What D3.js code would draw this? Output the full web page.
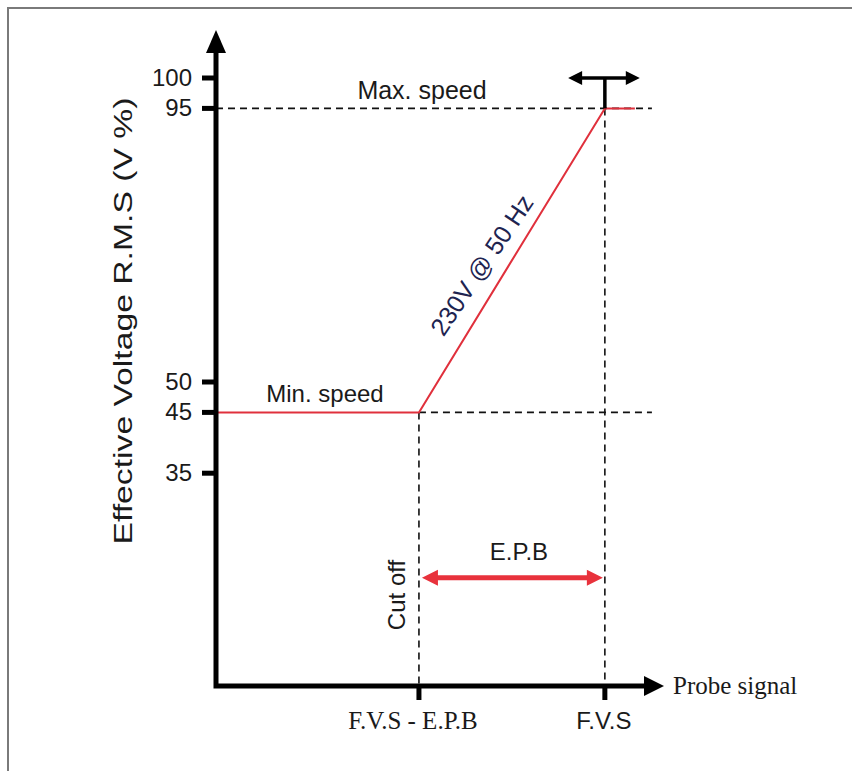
<!DOCTYPE html>
<html>
<head>
<meta charset="utf-8">
<script src="https://cdn.jsdelivr.net/npm/d3@7/dist/d3.min.js"></script>
<style>
  html, body { margin: 0; padding: 0; background: #fff; }
  svg { display: block; }
  .sans { font-family: "Liberation Sans", Arial, Helvetica, sans-serif; fill: #1a1a1a; }
  .serif { font-family: "Liberation Serif", "Times New Roman", serif; fill: #1a1a1a; }
</style>
</head>
<body>
<svg id="chart" width="852" height="771"></svg>
<script>
// ---- data ----
const yTickValues = [100, 95, 50, 45, 35];
const xTickValues = [45.3, 86.8];
const xTickLabels = ["F.V.S - E.P.B", "F.V.S"];
const curveX = [0, 45.3, 86.8, 93.5];
const curveY = [45, 45, 95, 95];
const maxLevel = 95, minLevel = 45;
const guideEnd = 97.3;
const epbLevel = 17.8;
const topArrowLevel = 100;
const topArrowSpan = [78.6, 94.6];
const yAxisTop = 107.9;
const xAxisEnd = 100;
const yAxisTitle = "Effective Voltage R.M.S (V %)";
const xAxisTitle = "Probe signal";

// ---- scales ----
const x = d3.scaleLinear().domain([0, 100]).range([216, 664]);
const y = d3.scaleLinear().domain([0, 100]).range([686, 78]);

const svg = d3.select("#chart");

// frame
svg.append("path").attr("d", "M8,771 L8,8 L852,8")
  .attr("fill", "none").attr("stroke", "#7a7a7a").attr("stroke-width", 2);

const line = d3.line().x(d => x(d[0])).y(d => y(d[1]));
const dash = "7,5";

// dashed guides
const guides = [
  [[0, maxLevel], [guideEnd, maxLevel]],
  [[xTickValues[0], minLevel], [guideEnd, minLevel]],
  [[xTickValues[0], minLevel], [xTickValues[0], 0]],
  [[xTickValues[1], maxLevel], [xTickValues[1], 0]]
];
svg.selectAll(".guide").data(guides).join("path")
  .attr("class", "guide")
  .attr("d", line)
  .attr("fill", "none").attr("stroke", "#111").attr("stroke-width", 1.6)
  .attr("stroke-dasharray", dash);

// red characteristic curve
svg.append("path")
  .datum(curveX.map((v, i) => [v, curveY[i]]))
  .attr("d", line)
  .attr("fill", "none").attr("stroke", "#e0303c").attr("stroke-width", 2);

// axes lines
const ax0 = x(0), ay0 = y(0);
svg.append("path")
  .attr("d", `M${ax0},${y(yAxisTop) + 18} L${ax0},${ay0} L${x(xAxisEnd) - 16},${ay0}`)
  .attr("fill", "none").attr("stroke", "#000").attr("stroke-width", 5)
  .attr("stroke-linejoin", "miter").attr("stroke-linecap", "square");
// y arrow head
const yt = y(yAxisTop);
svg.append("path")
  .attr("d", `M${ax0},${yt} L${ax0 + 10},${yt + 23} L${ax0 - 10},${yt + 23} Z`)
  .attr("fill", "#000");
// x arrow head
const xt = x(xAxisEnd);
svg.append("path")
  .attr("d", `M${xt},${ay0} L${xt - 20},${ay0 - 10} L${xt - 20},${ay0 + 10} Z`)
  .attr("fill", "#000");

// y ticks
svg.selectAll(".ytick").data(yTickValues).join("line")
  .attr("class", "ytick")
  .attr("x1", ax0 - 14).attr("x2", ax0)
  .attr("y1", d => y(d)).attr("y2", d => y(d))
  .attr("stroke", "#000").attr("stroke-width", 5);
svg.selectAll(".ylab").data(yTickValues).join("text")
  .attr("class", "ylab sans")
  .attr("x", ax0 - 24).attr("y", d => y(d)).attr("dy", "0.33em")
  .attr("text-anchor", "end").attr("font-size", 24)
  .text(d => d);

// x ticks
svg.selectAll(".xtick").data(xTickValues).join("line")
  .attr("class", "xtick")
  .attr("x1", d => x(d)).attr("x2", d => x(d))
  .attr("y1", ay0).attr("y2", ay0 + 14)
  .attr("stroke", "#000").attr("stroke-width", 5);
svg.append("text").attr("class", "serif")
  .attr("x", x(xTickValues[0]) - 6).attr("y", 729)
  .attr("text-anchor", "middle").attr("font-size", 25)
  .text(xTickLabels[0]);
svg.append("text").attr("class", "sans")
  .attr("x", x(xTickValues[1]) - 1).attr("y", 729)
  .attr("text-anchor", "middle").attr("font-size", 24)
  .text(xTickLabels[1]);

// axis titles
svg.append("text").attr("class", "serif")
  .attr("x", xt + 9).attr("y", 694)
  .attr("font-size", 25).text(xAxisTitle);
svg.append("text").attr("class", "sans")
  .attr("transform", "translate(132,321) rotate(-90)")
  .attr("text-anchor", "middle").attr("font-size", 25)
  .attr("textLength", 447).attr("lengthAdjust", "spacingAndGlyphs")
  .text(yAxisTitle);

// top double arrow with stem
const fvsX = x(xTickValues[1]);
const ta = y(topArrowLevel);
svg.append("line")
  .attr("x1", fvsX).attr("x2", fvsX).attr("y1", y(maxLevel)).attr("y2", ta)
  .attr("stroke", "#000").attr("stroke-width", 3.5);
const tl = x(topArrowSpan[0]), tr = x(topArrowSpan[1]);
svg.append("line")
  .attr("x1", tl + 10).attr("x2", tr - 10).attr("y1", ta).attr("y2", ta)
  .attr("stroke", "#000").attr("stroke-width", 3.5);
svg.append("path")
  .attr("d", `M${tl},${ta} L${tl + 14},${ta - 7} L${tl + 14},${ta + 7} Z M${tr},${ta} L${tr - 14},${ta - 7} L${tr - 14},${ta + 7} Z`)
  .attr("fill", "#000");

// E.P.B red double arrow
const el = x(xTickValues[0]) + 3, er = x(xTickValues[1]) - 2, ey = y(epbLevel);
svg.append("line")
  .attr("x1", el + 12).attr("x2", er - 12).attr("y1", ey).attr("y2", ey)
  .attr("stroke", "#e8323c").attr("stroke-width", 5);
svg.append("path")
  .attr("d", `M${el},${ey} L${el + 16},${ey - 8} L${el + 16},${ey + 8} Z M${er},${ey} L${er - 16},${ey - 8} L${er - 16},${ey + 8} Z`)
  .attr("fill", "#e8323c");

// annotations
svg.append("text").attr("class", "sans")
  .attr("x", 422).attr("y", 99).attr("text-anchor", "middle")
  .attr("font-size", 25).text("Max. speed");
svg.append("text").attr("class", "sans")
  .attr("x", 325).attr("y", 402).attr("text-anchor", "middle")
  .attr("font-size", 24).text("Min. speed");
svg.append("text").attr("class", "sans")
  .attr("x", 519).attr("y", 560).attr("text-anchor", "middle")
  .attr("font-size", 24).text("E.P.B");
svg.append("text").attr("class", "sans")
  .attr("transform", "translate(405,595) rotate(-90)")
  .attr("text-anchor", "middle").attr("font-size", 24).text("Cut off");
svg.append("text").attr("class", "sans")
  .attr("transform", "translate(489,270) rotate(-56)")
  .attr("text-anchor", "middle").attr("font-size", 25)
  .style("fill", "#1e2450")
  .text("230V @ 50 Hz");
</script>
</body>
</html>
